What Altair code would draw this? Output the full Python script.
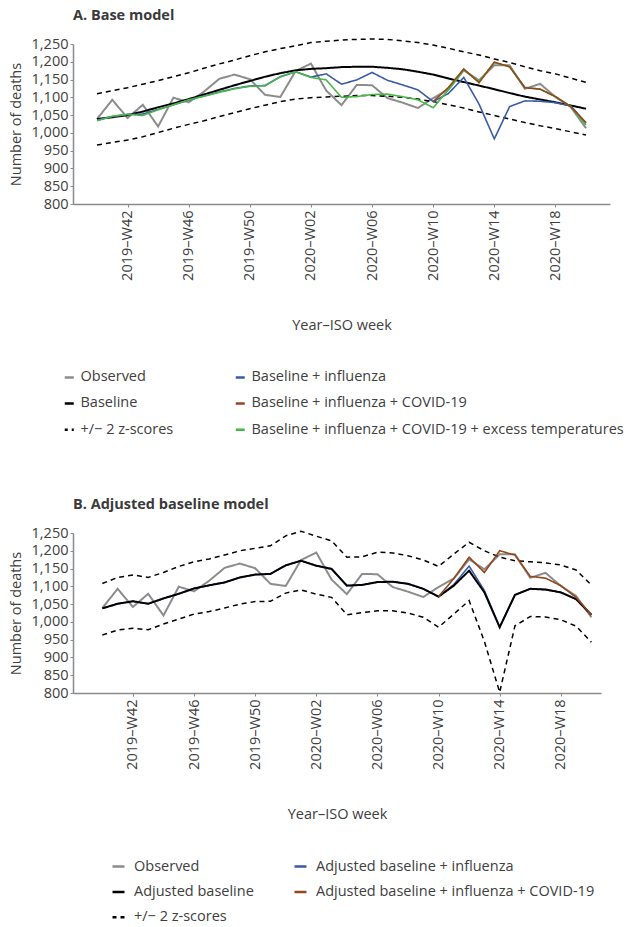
import json

import altair as alt
import pandas as pd

# ISO weeks covered by the series
weeks = [
    "2019–W40", "2019–W41", "2019–W42", "2019–W43", "2019–W44", "2019–W45",
    "2019–W46", "2019–W47", "2019–W48", "2019–W49", "2019–W50", "2019–W51",
    "2019–W52", "2020–W01", "2020–W02", "2020–W03", "2020–W04", "2020–W05",
    "2020–W06", "2020–W07", "2020–W08", "2020–W09", "2020–W10", "2020–W11",
    "2020–W12", "2020–W13", "2020–W14", "2020–W15", "2020–W16", "2020–W17",
    "2020–W18", "2020–W19", "2020–W20",
]
tick_weeks = ["2019–W42", "2019–W46", "2019–W50", "2020–W02",
              "2020–W06", "2020–W10", "2020–W14", "2020–W18"]

observed = [1039, 1093, 1042, 1079, 1018, 1099, 1086, 1116, 1152, 1164, 1151,
            1107, 1101, 1174, 1195, 1119, 1078, 1135, 1134, 1098, 1085, 1070,
            1098, 1122, 1176, 1148, 1190, 1190, 1124, 1138, 1101, 1073, 1013]

# Panel A: base model
a_baseline = [1039, 1044, 1050, 1060, 1072, 1083, 1095, 1108, 1121, 1134, 1146,
              1158, 1168, 1176, 1180, 1182, 1185, 1186, 1186, 1183, 1179, 1172,
              1164, 1153, 1143, 1133, 1123, 1112, 1102, 1094, 1086, 1077, 1068]
a_upper = [1110, 1119, 1127, 1137, 1147, 1158, 1169, 1182, 1194, 1205, 1217,
           1228, 1237, 1245, 1254, 1258, 1261, 1263, 1264, 1263, 1259, 1254,
           1247, 1238, 1228, 1219, 1208, 1198, 1186, 1175, 1166, 1154, 1142]
a_lower = [966, 973, 980, 989, 1001, 1013, 1024, 1034, 1046, 1057, 1068,
           1078, 1088, 1095, 1099, 1101, 1103, 1105, 1105, 1103, 1100, 1095,
           1088, 1079, 1070, 1059, 1049, 1039, 1029, 1020, 1012, 1003, 994]
a_flu = [1036, 1046, 1052, 1053, 1066, 1079, 1092, 1104, 1115, 1125, 1132,
         1133, 1158, 1172, 1157, 1166, 1137, 1149, 1170, 1148, 1135, 1121,
         1088, 1111, 1156, 1081, 983, 1074, 1090, 1089, 1085, 1076, 1027]
a_covid = [None] * 22 + [1088, 1128, 1180, 1141, 1199, 1186, 1127, 1123,
                         1102, 1074, 1029]
a_temp = [1034, 1047, 1052, 1049, 1065, 1079, 1093, 1103, 1114, 1124, 1131,
          1133, 1158, 1172, 1156, 1149, 1100, 1102, 1108, 1109, 1102, 1093,
          1071, 1121, 1177, 1144, 1198, 1186, 1128, 1123, 1102, 1074, 1022]

# Panel B: adjusted baseline model
b_baseline = [1038, 1051, 1058, 1051, 1066, 1079, 1094, 1103, 1111, 1125, 1133,
              1135, 1159, 1172, 1158, 1149, 1102, 1104, 1112, 1113, 1107, 1093,
              1071, 1102, 1144, 1083, 985, 1076, 1093, 1091, 1083, 1064, 1020]
b_upper = [1108, 1125, 1132, 1125, 1139, 1156, 1169, 1177, 1188, 1200, 1207,
           1214, 1242, 1255, 1241, 1228, 1182, 1183, 1196, 1194, 1186, 1174,
           1156, 1191, 1224, 1200, 1182, 1172, 1169, 1166, 1160, 1146, 1104]
b_lower = [963, 977, 982, 978, 994, 1008, 1022, 1029, 1039, 1050, 1057,
           1058, 1081, 1090, 1078, 1069, 1020, 1026, 1031, 1031, 1025, 1013,
           985, 1022, 1060, 945, 802, 989, 1015, 1014, 1006, 988, 943]
b_flu = [1038, 1051, 1058, 1051, 1066, 1079, 1094, 1103, 1111, 1125, 1133,
         1135, 1159, 1172, 1158, 1149, 1102, 1104, 1112, 1113, 1107, 1093,
         1071, 1105, 1157, 1088, 985, 1076, 1093, 1091, 1083, 1064, 1020]
b_covid = [None] * 22 + [1071, 1122, 1182, 1139, 1200, 1188, 1128, 1123,
                         1102, 1069, 1019]

GREY = "#8c8c8c"
BLACK = "#000000"
BLUE = "#3b5aa6"
BROWN = "#94461c"
GREEN = "#47b847"
ZS = "+/− 2 z-scores"

FONT = "Open Sans"
TEXT = "#404040"
SOLID = [1, 0]
DASH = [5, 4]

# week index -> week label, used by the x axis
WEEK_LABELS = json.dumps(weeks, ensure_ascii=False) + "[datum.value]"
TICK_INDEX = [weeks.index(w) for w in tick_weeks]


def rows(series, line, values):
    return [{"idx": i, "week": w, "series": series, "line": line, "value": v}
            for i, (w, v) in enumerate(zip(weeks, values)) if v is not None]


def panel(title, layers, order, colors, dashes, width, x_domain,
          lx, col_pad, row_pad, sym_size, lab_off, dash_off):
    data = []
    for name, line, values, _ in layers:
        data += rows(name, line, values)
    df = pd.DataFrame(data)

    legend = alt.Legend(
        title=None, orient="none", legendX=lx, legendY=326, columns=2,
        columnPadding=col_pad, rowPadding=row_pad, symbolType="stroke",
        symbolSize=sym_size, symbolStrokeWidth=2.5, symbolDashOffset=dash_off,
        labelFontSize=14.5, labelOffset=lab_off, labelLimit=0, padding=0,
    )
    enc = dict(
        x=alt.X("idx:Q", title="Year–ISO week",
                scale=alt.Scale(domain=x_domain, nice=False, zero=False),
                axis=alt.Axis(values=TICK_INDEX, labelExpr=WEEK_LABELS,
                              labelAngle=-90, labelAlign="right",
                              labelBaseline="middle", labelPadding=3,
                              tickSize=3, titlePadding=38)),
        y=alt.Y("value:Q", title="Number of deaths",
                scale=alt.Scale(domain=[800, 1250], nice=False, zero=False),
                axis=alt.Axis(values=list(range(800, 1251, 50)), format=",d",
                              tickSize=3, labelPadding=2, titlePadding=8)),
        color=alt.Color("series:N",
                        scale=alt.Scale(domain=order, range=colors),
                        legend=legend),
        strokeDash=alt.StrokeDash("series:N",
                                  scale=alt.Scale(domain=order, range=dashes),
                                  legend=legend),
        detail="line:N",
        order="idx:Q",
    )
    marks = []
    for name, line, values, sw in layers:
        marks.append(
            alt.Chart(df)
            .transform_filter((alt.datum.series == name) & (alt.datum.line == line))
            .mark_line(strokeWidth=sw)
            .encode(**enc)
        )
    return alt.layer(*marks).properties(
        width=width, height=160,
        title=alt.TitleParams(title, anchor="start", frame="group",
                              fontSize=14.5, fontWeight="bold", color="#3a3a3a",
                              offset=13),
    )


# legend entries fill the two columns top to bottom
a_order = ["Observed", "Baseline", ZS, "Baseline + influenza",
           "Baseline + influenza + COVID-19",
           "Baseline + influenza + COVID-19 + excess temperatures"]
a_colors = [GREY, BLACK, BLACK, BLUE, BROWN, GREEN]
a_dashes = [SOLID, SOLID, DASH, SOLID, SOLID, SOLID]
a_layers = [
    ("Observed", "obs", observed, 2),
    (ZS, "upper", a_upper, 1.5),
    (ZS, "lower", a_lower, 1.5),
    ("Baseline", "base", a_baseline, 2),
    ("Baseline + influenza", "flu", a_flu, 1.6),
    ("Baseline + influenza + COVID-19 + excess temperatures", "temp", a_temp, 1.6),
    ("Baseline + influenza + COVID-19", "covid", a_covid, 1.6),
]

b_order = ["Observed", "Adjusted baseline", ZS,
           "Adjusted baseline + influenza",
           "Adjusted baseline + influenza + COVID-19"]
b_colors = [GREY, BLACK, BLACK, BLUE, BROWN]
b_dashes = [SOLID, SOLID, DASH, SOLID, SOLID]
b_layers = [
    ("Observed", "obs", observed, 2),
    (ZS, "upper", b_upper, 1.5),
    (ZS, "lower", b_lower, 1.5),
    ("Adjusted baseline + influenza", "flu", b_flu, 1.6),
    ("Adjusted baseline", "base", b_baseline, 2),
    ("Adjusted baseline + influenza + COVID-19", "covid", b_covid, 1.6),
]

panel_a = panel("A. Base model", a_layers, a_order, a_colors, a_dashes,
                537, [-1.57, 33.57], -11, 56, 11.2, 81, 4, 2)
panel_b = panel("B. Adjusted baseline model", b_layers, b_order, b_colors,
                b_dashes, 528, [-1.92, 32.63], 38, 35, 10.4, 144, 8, 1)

chart = (
    alt.vconcat(panel_a, panel_b, spacing=59)
    .resolve_scale(color="independent", strokeDash="independent")
    .resolve_legend(color="independent", strokeDash="independent")
    .properties(padding={"left": 8, "top": 7, "right": 0, "bottom": 0})
    .configure_axis(labelFont=FONT, titleFont=FONT, labelFontSize=14.5,
                    titleFontSize=14.5, labelColor=TEXT, titleColor=TEXT,
                    titleFontWeight="normal", domainColor="#8a8a8a",
                    tickColor="#8a8a8a", domainWidth=1.5, grid=False)
    .configure_legend(labelFont=FONT, labelColor=TEXT)
    .configure_title(font=FONT)
    .configure_view(stroke=None)
)

chart.save("out.html", embed_options={"renderer": "svg", "actions": False})
